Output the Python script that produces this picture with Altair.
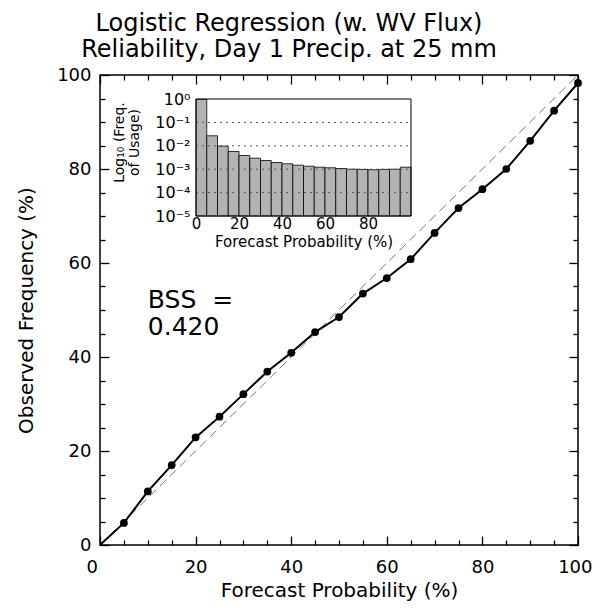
import altair as alt
import pandas as pd

# ---- data ----
prob = [0, 5, 10, 15, 20, 25, 30, 35, 40, 45, 50, 55, 60, 65, 70, 75, 80, 85, 90, 95, 100]
obs = [0, 4.7, 11.4, 17.0, 22.9, 27.3, 32.1, 36.9, 40.9, 45.3, 48.5, 53.5, 56.8, 60.8,
       66.4, 71.7, 75.7, 80.0, 86.0, 92.4, 98.3]

bin_lo = [0, 5, 10, 15, 20, 25, 30, 35, 40, 45, 50, 55, 60, 65, 70, 75, 80, 85, 90, 95]
bin_hi = [5, 10, 15, 20, 25, 30, 35, 40, 45, 50, 55, 60, 65, 70, 75, 80, 85, 90, 95, 100]
usage = [0.97, 0.0268, 0.0097, 0.0057, 0.00385, 0.00296, 0.00235, 0.00193, 0.0017,
         0.00149, 0.00134, 0.00122, 0.00115, 0.00107, 0.00100, 0.00098, 0.00095,
         0.00098, 0.00100, 0.00122]

grid_levels = [1e-1, 1e-2, 1e-3, 1e-4]
inset_y_ticks = [1e-5, 1e-4, 1e-3, 1e-2, 1e-1, 1e0]
inset_x_ticks = [0, 20, 40, 60, 80]
main_ticks = [0, 20, 40, 60, 80, 100]
minor_ticks = [5, 10, 15, 25, 30, 35, 45, 50, 55, 65, 70, 75, 85, 90, 95]

bss_text = "BSS \u00a0=\n0.420"

FONT = "DejaVu Sans"
W, H = 478, 470

rel = pd.DataFrame({"p": prob, "o": obs})
diag = pd.DataFrame({"p": [0, 100], "o": [0, 100]})
hist = pd.DataFrame({"lo": bin_lo, "hi": bin_hi, "f": usage, "base": [1e-5] * len(usage)})
grid = pd.DataFrame({"g": grid_levels, "x0": [0] * 4, "x1": [100] * 4})
frame = pd.DataFrame({"x0": [0], "x1": [100], "y0": [1e-5], "y1": [1.0]})
bss = pd.DataFrame({"x": [10], "y": [50.4], "t": [bss_text]})
dummy = pd.DataFrame({"x": [0], "y": [0]})


def mx():
    return alt.Scale(domain=[0, 100], nice=False, zero=False)


def my():
    return alt.Scale(domain=[0, 100], nice=False, zero=False)


def ix():
    return alt.Scale(domain=[0, 100], nice=False, zero=False, range=[96, 311])


def iy():
    return alt.Scale(type="log", domain=[1e-5, 1], nice=False, range=[141, 24])


# main dashed diagonal carrying the labelled axes
diag_layer = alt.Chart(diag).mark_line(color="#777777", strokeDash=[9, 5], strokeWidth=1).encode(
    x=alt.X("p:Q", scale=mx(), axis=alt.Axis(
        orient="bottom", values=main_ticks, ticks=False, domain=False, grid=False,
        labelFlush=True, labelFlushOffset=14,
        labelPadding=13, title="Forecast Probability (%)", titlePadding=4)),
    y=alt.Y("o:Q", scale=my(), axis=alt.Axis(
        orient="left", values=main_ticks, ticks=False, domain=False, grid=False,
        labelPadding=9, title="Observed Frequency (%)", titlePadding=20)),
)

line_layer = alt.Chart(rel).mark_line(color="black", strokeWidth=2).encode(
    x=alt.X("p:Q", scale=mx(), axis=None),
    y=alt.Y("o:Q", scale=my(), axis=None),
)

pts_layer = alt.Chart(rel).transform_filter("datum.p > 0").mark_circle(
    color="black", opacity=1, size=60).encode(
    x=alt.X("p:Q", scale=mx(), axis=None),
    y=alt.Y("o:Q", scale=my(), axis=None),
)

bss_layer = alt.Chart(bss).mark_text(
    align="left", baseline="alphabetic", fontSize=25, font=FONT, lineBreak="\n",
    lineHeight=27, color="black").encode(
    x=alt.X("x:Q", scale=mx(), axis=None),
    y=alt.Y("y:Q", scale=my(), axis=None),
    text="t:N",
)


def tick_layer(xorient, yorient, values, size):
    common = dict(labels=False, domain=False, grid=False, title=None, ticks=True,
                  tickColor="black", tickWidth=1.3, tickSize=size, values=values)
    return alt.Chart(dummy).mark_point(opacity=0).encode(
        x=alt.X("x:Q", scale=mx(), axis=alt.Axis(orient=xorient, offset=-H, **common)),
        y=alt.Y("y:Q", scale=my(), axis=alt.Axis(orient=yorient, offset=-W, **common)),
    )


ticks = [
    tick_layer("top", "right", main_ticks, 9),
    tick_layer("top", "right", minor_ticks, 5),
    tick_layer("bottom", "left", main_ticks, 9),
    tick_layer("bottom", "left", minor_ticks, 5),
]

sup_expr = ("'10' + ['\u207b\u2075','\u207b\u2074','\u207b\u00b3','\u207b\u00b2','\u207b\u00b9','\u2070']"
            "[round(log(datum.value)/LN10)+5]")

bars = alt.Chart(hist).mark_bar(color="#b3b3b3", stroke="black", strokeWidth=0.8).encode(
    x=alt.X("lo:Q", scale=ix(), axis=alt.Axis(
        orient="bottom", offset=-(H - 141), values=inset_x_ticks, ticks=False, domain=False,
        grid=False, labelFontSize=15, labelPadding=0, title="Forecast Probability (%)",
        titleFontSize=15, titlePadding=3)),
    x2="hi:Q",
    y=alt.Y("f:Q", scale=iy(), axis=alt.Axis(
        orient="left", offset=-96, values=inset_y_ticks, labelExpr=sup_expr, ticks=False,
        domain=False, grid=False, labelFontSize=16, labelPadding=6,
        title=["Log\u2081\u2080 (Freq.", "of Usage)"], titleFontSize=14, titlePadding=13,
        titleLineHeight=15, titleY=67)),
    y2="base:Q",
)

grid_layer = alt.Chart(grid).mark_rule(color="#555555", strokeDash=[2, 4], strokeWidth=1).encode(
    x=alt.X("x0:Q", scale=ix(), axis=None),
    x2="x1:Q",
    y=alt.Y("g:Q", scale=iy(), axis=None),
)

frame_layer = alt.Chart(frame).mark_rect(fillOpacity=0, stroke="black", strokeWidth=1).encode(
    x=alt.X("x0:Q", scale=ix(), axis=None),
    x2="x1:Q",
    y=alt.Y("y0:Q", scale=iy(), axis=None),
    y2="y1:Q",
)

chart = alt.layer(
    diag_layer, *ticks, bars, grid_layer, frame_layer, line_layer, pts_layer, bss_layer
).resolve_scale(x="independent", y="independent").properties(
    width=W, height=H,
    autosize=alt.AutoSizeParams(type="none"),
    padding={"left": 92, "top": 67, "right": 15, "bottom": 59},
    title=alt.TitleParams(
        ["Logistic Regression (w. WV Flux)", "Reliability, Day 1 Precip. at 25 mm"],
        fontSize=24, fontWeight="normal", font=FONT, color="black", anchor="middle",
        frame="group", dx=-50, offset=4, lineHeight=26),
).configure_axis(
    labelFont=FONT, titleFont=FONT, labelFontSize=18, titleFontSize=20,
    labelColor="black", titleColor="black", titleFontWeight="normal", labelFlush=False,
).configure_view(stroke="black", strokeWidth=1.5)

chart.save("out.html", embed_options={"renderer": "svg", "actions": False})
